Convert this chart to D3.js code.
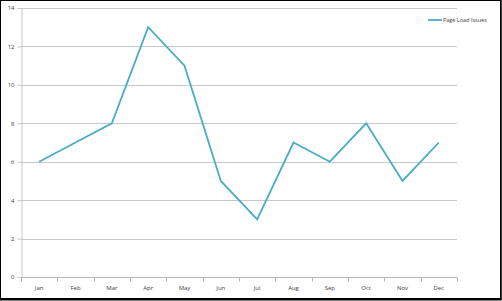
<!DOCTYPE html>
<html lang="en">
<head>
    <meta charset="UTF-8">
    <title>Page Load Issues</title>
    <script src="https://d3js.org/d3.v7.min.js"></script>
    <style>
        body {
            margin: 0;
            overflow: hidden;
            background: #fff;
        }
        text {
            font-family: "Open Sans", "DejaVu Sans", sans-serif;
            font-size: 6px;
            fill: #404040;
        }
    </style>
</head>
<body>
    <script>
        const width = 502;
        const height = 301;

        // data
        const months = ["Jan", "Feb", "Mar", "Apr", "May", "Jun", "Jul", "Aug", "Sep", "Oct", "Nov", "Dec"];
        const issues = [6, 7, 8, 13, 11, 5, 3, 7, 6, 8, 5, 7];
        const yTicks = [0, 2, 4, 6, 8, 10, 12, 14];
        const seriesName = "Page Load Issues";

        const margin = {top: 8, right: 45, bottom: 24, left: 21};

        const svg = d3.select("body").append("svg")
            .attr("width", width)
            .attr("height", height);

        // outer frame
        svg.append("rect")
            .attr("x", 0.5).attr("y", 0.5)
            .attr("width", 500).attr("height", 298)
            .attr("fill", "none")
            .attr("stroke", "#000")
            .attr("stroke-width", 1);
        svg.append("line")
            .attr("x1", 0).attr("x2", 501.5)
            .attr("y1", 299.5).attr("y2", 299.5)
            .attr("stroke", "#000").attr("stroke-width", 2);
        svg.append("line")
            .attr("x1", 501).attr("x2", 501)
            .attr("y1", 0).attr("y2", 300)
            .attr("stroke", "#000").attr("stroke-width", 1.5);

        const x = d3.scaleBand()
            .domain(months)
            .range([margin.left, width - margin.right]);

        const y = d3.scaleLinear()
            .domain([0, 14])
            .range([height - margin.bottom, margin.top]);

        // gridlines
        svg.append("g")
            .selectAll("line")
            .data(yTicks.filter(d => d > 0))
            .enter().append("line")
            .attr("x1", margin.left)
            .attr("x2", width - margin.right)
            .attr("y1", d => Math.round(y(d)) + 0.5)
            .attr("y2", d => Math.round(y(d)) + 0.5)
            .attr("stroke", "#c8c8c8")
            .attr("stroke-width", 1);

        // y axis
        const yAxis = svg.append("g")
            .attr("transform", `translate(${margin.left + 0.5},0)`)
            .call(d3.axisLeft(y).tickValues(yTicks).tickSize(4).tickPadding(3));
        yAxis.select(".domain").attr("stroke", "#c8c8c8");
        yAxis.selectAll(".tick line").attr("stroke", "#c8c8c8");
        yAxis.selectAll(".tick text").attr("fill", "#404040").style("font-size", "6px");

        // x axis with ticks between categories
        const xAxisG = svg.append("g")
            .attr("transform", `translate(0,${Math.round(y(0)) + 0.5})`);
        xAxisG.append("line")
            .attr("x1", margin.left).attr("x2", width - margin.right)
            .attr("stroke", "#b4b4b4");
        xAxisG.selectAll(".sep")
            .data(months.concat(["end"]))
            .enter().append("line")
            .attr("class", "sep")
            .attr("x1", (d, i) => Math.round(margin.left + i * x.step()) + 0.5)
            .attr("x2", (d, i) => Math.round(margin.left + i * x.step()) + 0.5)
            .attr("y1", 0).attr("y2", 4)
            .attr("stroke", "#b4b4b4");
        xAxisG.selectAll(".lbl")
            .data(months)
            .enter().append("text")
            .attr("class", "lbl")
            .attr("x", d => x(d) + x.bandwidth() / 2)
            .attr("y", 12)
            .attr("text-anchor", "middle")
            .text(d => d);

        // series line
        const line = d3.line()
            .x((d, i) => x(months[i]) + x.bandwidth() / 2)
            .y(d => y(d));

        svg.append("path")
            .datum(issues)
            .attr("fill", "none")
            .attr("stroke", "#4bacc6")
            .attr("stroke-width", 1.8)
            .attr("stroke-linejoin", "miter")
            .attr("d", line);

        // legend
        const legend = svg.append("g")
            .attr("transform", "translate(428,20)");
        legend.append("line")
            .attr("x1", 0).attr("x2", 14)
            .attr("stroke", "#4bacc6")
            .attr("stroke-width", 1.8);
        legend.append("text")
            .attr("x", 15)
            .attr("y", 2)
            .style("font-size", "5.5px")
            .text(seriesName);
    </script>
</body>
</html>
